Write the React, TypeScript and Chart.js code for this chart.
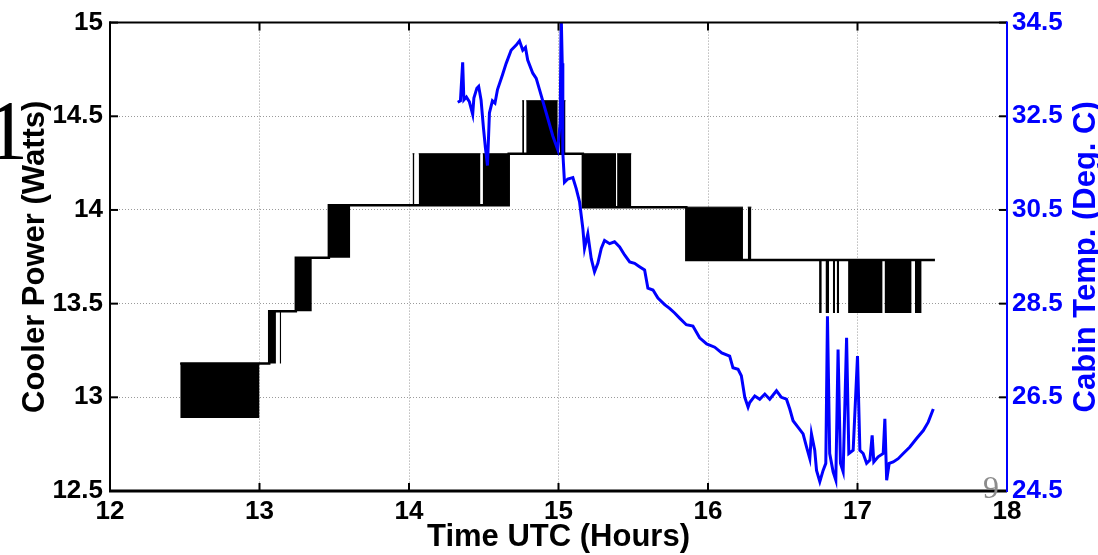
import { useEffect, useRef } from "react";
import { Chart, registerables } from "chart.js";

Chart.register(...registerables);

// Axis ticks
const X_TICKS = [12, 13, 14, 15, 16, 17, 18];
const POWER_TICKS = [12.5, 13, 13.5, 14, 14.5, 15];
const TEMP_TICKS = [24.5, 26.5, 28.5, 30.5, 32.5, 34.5];

// Cooler power: resting level of the controller (step path)
const powerTime = [12.47, 13.065, 13.065, 13.243, 13.243, 13.464, 13.464, 14.667, 14.667, 15.163, 15.163, 15.855, 15.855, 17.518];
const powerLevel = [13.18, 13.18, 13.46, 13.46, 13.745, 13.745, 14.025, 14.025, 14.3, 14.3, 14.015, 14.015, 13.733, 13.733];

// Cooler power: intervals where the controller toggles rapidly between two levels
const bandStart = [12.47, 13.065, 13.135, 13.243, 13.464, 14.024, 14.065, 14.493, 14.757, 14.784, 15.007, 15.163, 15.392, 15.855, 16.266, 16.743, 16.786, 16.835, 16.861, 16.937, 17.181, 17.384];
const bandEnd = [13.0, 13.11, 13.145, 13.35, 13.607, 14.036, 14.478, 14.667, 14.77, 14.995, 15.047, 15.385, 15.487, 16.234, 16.29, 16.761, 16.81, 16.85, 16.877, 17.168, 17.362, 17.429];
const bandLow = [12.89, 13.18, 13.18, 13.46, 13.745, 14.025, 14.025, 14.025, 14.3, 14.3, 14.3, 14.015, 14.015, 13.733, 13.733, 13.45, 13.45, 13.45, 13.45, 13.45, 13.45, 13.45];
const bandHigh = [13.18, 13.46, 13.46, 13.745, 14.025, 14.3, 14.3, 14.3, 14.583, 14.583, 14.583, 14.3, 14.3, 14.015, 14.015, 13.733, 13.733, 13.733, 13.733, 13.733, 13.733, 13.733];

// Cabin temperature (Deg. C)
const tempTime = [
  14.326, 14.344, 14.359, 14.367, 14.384, 14.404, 14.426, 14.434, 14.454, 14.466,
  14.482, 14.498, 14.511, 14.525, 14.538, 14.558, 14.575, 14.592, 14.625, 14.65,
  14.683, 14.717, 14.739, 14.761, 14.779, 14.794, 14.828, 14.851, 14.873, 14.918,
  14.962, 14.995, 15.011, 15.018, 15.025, 15.029, 15.04, 15.062, 15.096, 15.119,
  15.141, 15.163, 15.174, 15.196, 15.219, 15.241, 15.263, 15.286, 15.308, 15.342,
  15.375, 15.409, 15.442, 15.476, 15.509, 15.542, 15.576, 15.598, 15.632, 15.665,
  15.71, 15.743, 15.777, 15.81, 15.855, 15.899, 15.944, 15.991, 16.045, 16.092,
  16.145, 16.167, 16.201, 16.223, 16.246, 16.268, 16.279, 16.313, 16.346, 16.38,
  16.413, 16.458, 16.491, 16.525, 16.547, 16.569, 16.603, 16.636, 16.659, 16.681,
  16.692, 16.714, 16.726, 16.748, 16.77, 16.788, 16.799, 16.814, 16.837, 16.855,
  16.87, 16.886, 16.904, 16.927, 16.942, 16.971, 17.0, 17.016, 17.038, 17.061,
  17.083, 17.098, 17.109, 17.138, 17.172, 17.183, 17.195, 17.212, 17.239, 17.272,
  17.306, 17.35, 17.395, 17.44, 17.473, 17.507,
];
const tempValue = [
  32.8, 32.83, 33.65, 32.85, 32.91, 32.81, 32.54, 32.89, 33.1, 33.14,
  32.85, 32.25, 31.83, 31.45, 32.57, 32.83, 32.78, 33.07, 33.38, 33.63,
  33.91, 34.02, 34.11, 33.91, 33.97, 33.7, 33.42, 33.31, 33.07, 32.57,
  32.08, 31.79, 32.36, 34.69, 33.63, 31.72, 31.09, 31.16, 31.19, 30.95,
  30.67, 30.1, 29.68, 29.99, 29.46, 29.18, 29.36, 29.68, 29.85, 29.78,
  29.82, 29.71, 29.54, 29.39, 29.36, 29.29, 29.22, 28.83, 28.79, 28.62,
  28.48, 28.4, 28.3, 28.19, 28.05, 28.02, 27.77, 27.64, 27.57, 27.45,
  27.38, 27.13, 27.1, 26.96, 26.5, 26.29, 26.39, 26.53, 26.46, 26.57,
  26.46, 26.64, 26.5, 26.46, 26.25, 26.0, 25.86, 25.72, 25.44, 25.19,
  25.72, 25.37, 24.94, 24.7, 24.94, 25.09, 28.23, 25.3, 24.91, 24.73,
  27.52, 25.09, 24.91, 27.77, 25.3, 25.37, 27.38, 25.37, 25.3, 25.09,
  25.16, 25.69, 25.12, 25.23, 25.3, 26.04, 24.73, 25.09, 25.12, 25.19,
  25.3, 25.44, 25.62, 25.79, 25.97, 26.25,
];

const FONT = '"Liberation Sans", Arial, Helvetica, sans-serif';
const SERIF = '"Liberation Serif", "Times New Roman", serif';
const BLUE = "#0000ff";

// Box frame, inward tick marks and loose annotations
const framePlugin = {
  id: "frame",
  afterDatasetsDraw(chart: any) {
    const { ctx, chartArea, scales } = chart;
    const { left, right, top, bottom } = chartArea;
    const seg = (x1: number, y1: number, x2: number, y2: number) => {
      ctx.beginPath();
      ctx.moveTo(x1, y1);
      ctx.lineTo(x2, y2);
      ctx.stroke();
    };
    ctx.save();
    ctx.strokeStyle = "#000";
    ctx.lineWidth = 2;
    X_TICKS.forEach((v) => {
      const px = scales.x.getPixelForValue(v);
      seg(px, bottom, px, bottom - 8);
      seg(px, top, px, top + 8);
    });
    POWER_TICKS.forEach((v) => {
      const py = scales.y.getPixelForValue(v);
      seg(left, py, left + 8, py);
      seg(right, py, right - 8, py);
    });
    ctx.lineWidth = 2;
    seg(left - 1, top, right, top);
    seg(left, top - 1, left, bottom + 1);
    ctx.lineWidth = 3;
    seg(left - 1, bottom, right, bottom);
    ctx.strokeStyle = BLUE;
    ctx.lineWidth = 2;
    seg(right, top - 1, right, bottom + 1);
    ctx.restore();
  },
  afterDraw(chart: any) {
    const { ctx, chartArea } = chart;
    ctx.save();
    // right-axis title, reading bottom to top
    ctx.translate(1086, (chartArea.top + chartArea.bottom) / 2);
    ctx.rotate(-Math.PI / 2);
    ctx.fillStyle = BLUE;
    ctx.font = `bold 31px ${FONT}`;
    ctx.textAlign = "center";
    ctx.textBaseline = "middle";
    ctx.fillText("Cabin Temp. (Deg. C)", 0, 0);
    ctx.restore();

    ctx.save();
    ctx.textAlign = "left";
    ctx.textBaseline = "alphabetic";
    ctx.fillStyle = "#000";
    ctx.font = `84px ${SERIF}`;
    ctx.fillText("1", -14, 159);
    ctx.fillStyle = "#8c8c8c";
    ctx.font = `32px ${SERIF}`;
    ctx.fillText("9", 983, 498);
    ctx.restore();
  },
};

export default function App() {
  const canvasRef = useRef<HTMLCanvasElement>(null);

  useEffect(() => {
    const canvas = canvasRef.current;
    if (!canvas) return;

    const tickFont = { family: FONT, size: 26, weight: "bold" as const, lineHeight: 1.2 };
    const titleFont = { family: FONT, size: 31, weight: "bold" as const, lineHeight: 1 };
    const plain = (v: any) => String(Number(v));

    const bandSets = bandStart.map((s, i) => ({
      label: `band${i}`,
      data: [
        { x: s, y: bandHigh[i] },
        { x: bandEnd[i], y: bandHigh[i] },
      ],
      yAxisID: "y",
      borderColor: "#000",
      borderWidth: 1,
      backgroundColor: "#000",
      fill: { value: bandLow[i] },
      pointRadius: 0,
      order: 2,
    }));

    const chart = new Chart(canvas, {
      type: "line",
      data: {
        datasets: [
          {
            label: "Cabin Temp.",
            data: tempTime.map((t, i) => ({ x: t, y: tempValue[i] })),
            yAxisID: "y2",
            borderColor: BLUE,
            borderWidth: 3,
            pointRadius: 0,
            fill: false,
            tension: 0,
            order: 0,
          },
          {
            label: "Cooler Power",
            data: powerTime.map((t, i) => ({ x: t, y: powerLevel[i] })),
            yAxisID: "y",
            borderColor: "#000",
            borderWidth: 2.5,
            pointRadius: 0,
            fill: false,
            tension: 0,
            order: 1,
          },
          ...bandSets,
        ] as any,
      },
      options: {
        animation: false,
        responsive: false,
        maintainAspectRatio: false,
        events: [],
        layout: { padding: { top: 19, left: 0, right: 0, bottom: 0 } },
        plugins: {
          legend: { display: false },
          tooltip: { enabled: false },
        },
        scales: {
          x: {
            type: "linear",
            min: 12,
            max: 18,
            afterBuildTicks: (s: any) => {
              s.ticks = X_TICKS.map((v) => ({ value: v }));
            },
            afterFit: (s: any) => {
              s.height = 64;
            },
            grid: { color: "#9a9a9a", lineWidth: 1, drawTicks: false },
            border: { display: false, dash: [1, 2] },
            ticks: { color: "#000", font: tickFont, padding: 5, maxRotation: 0, callback: plain },
            title: {
              display: true,
              text: "Time UTC (Hours)",
              color: "#000",
              font: titleFont,
              padding: { top: 0, bottom: 2 },
            },
          },
          y: {
            type: "linear",
            position: "left",
            min: 12.5,
            max: 15,
            afterBuildTicks: (s: any) => {
              s.ticks = POWER_TICKS.map((v) => ({ value: v }));
            },
            afterFit: (s: any) => {
              s.width = 110;
            },
            grid: { color: "#9a9a9a", lineWidth: 1, drawTicks: false },
            border: { display: false, dash: [1, 2] },
            ticks: { color: "#000", font: tickFont, padding: 7, callback: plain },
            title: {
              display: true,
              text: "Cooler Power (Watts)",
              color: "#000",
              font: titleFont,
              padding: { top: 20, bottom: 0 },
            },
          },
          y2: {
            type: "linear",
            position: "right",
            min: 24.5,
            max: 34.5,
            afterBuildTicks: (s: any) => {
              s.ticks = TEMP_TICKS.map((v) => ({ value: v }));
            },
            afterFit: (s: any) => {
              s.width = 91;
            },
            grid: { display: false, drawTicks: false },
            border: { display: false },
            ticks: { color: BLUE, font: tickFont, padding: 5, callback: plain },
            title: { display: false },
          },
        },
      } as any,
      plugins: [framePlugin],
    });

    return () => chart.destroy();
  }, []);

  return (
    <div style={{ position: "absolute", left: 0, top: 0, width: 1098, height: 555, background: "#fff" }}>
      <canvas ref={canvasRef} width={1098} height={555} style={{ display: "block" }} />
    </div>
  );
}
